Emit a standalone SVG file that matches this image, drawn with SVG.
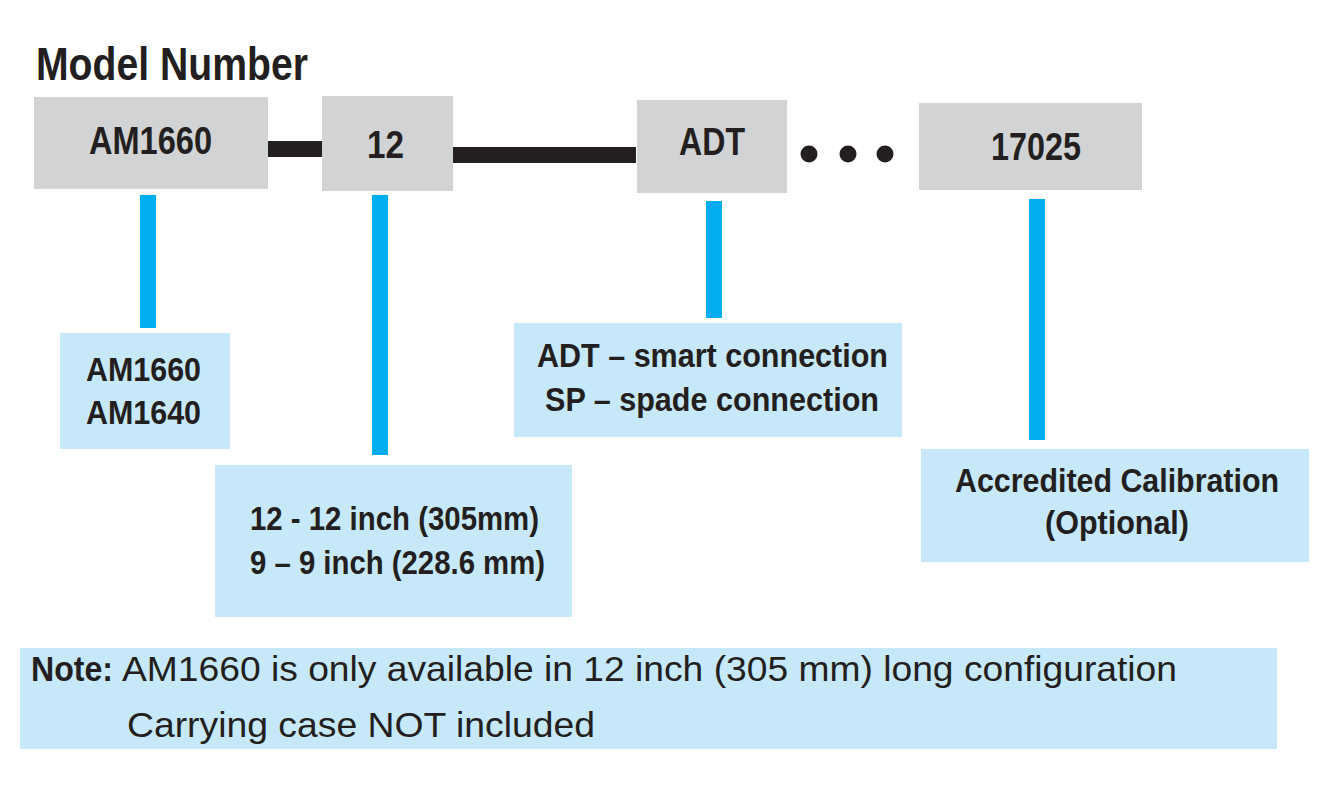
<svg xmlns="http://www.w3.org/2000/svg" width="1330" height="792" viewBox="0 0 1330 792">
<style>
.gray{fill:#d1d3d4}
.lb{fill:#c7e8f8}
.bar{fill:#231f20}
.bl{fill:#00aeef}
text{font-family:"Liberation Sans",Arial,sans-serif;fill:#231f20}
.b{font-weight:bold}
</style>
<rect width="1330" height="792" fill="#ffffff"/>
<text id="title" class="b" x="36" y="80" font-size="47" textLength="272" lengthAdjust="spacingAndGlyphs">Model Number</text>
<g id="connectors">
<rect class="bar" x="268" y="141" width="54" height="16"/>
<rect class="bar" x="453" y="147" width="183" height="16"/>
<circle class="bar" cx="809" cy="154" r="8.5"/>
<circle class="bar" cx="848" cy="154" r="8.5"/>
<circle class="bar" cx="885" cy="154" r="8.5"/>
<rect class="bl" x="140" y="195" width="16" height="133"/>
<rect class="bl" x="372" y="195" width="16" height="260"/>
<rect class="bl" x="706" y="201" width="16" height="117"/>
<rect class="bl" x="1029" y="199" width="16" height="241"/>
</g>
<g id="node-am1660">
<rect class="gray" x="34" y="97" width="234" height="92"/>
<text class="b" x="89" y="154" font-size="38" textLength="123" lengthAdjust="spacingAndGlyphs">AM1660</text>
</g>
<g id="node-12">
<rect class="gray" x="322" y="96" width="131" height="95"/>
<text class="b" x="367" y="158" font-size="38" textLength="37" lengthAdjust="spacingAndGlyphs">12</text>
</g>
<g id="node-adt">
<rect class="gray" x="637" y="100" width="150" height="93"/>
<text class="b" x="679" y="155" font-size="38" textLength="66" lengthAdjust="spacingAndGlyphs">ADT</text>
</g>
<g id="node-17025">
<rect class="gray" x="919" y="103" width="223" height="87"/>
<text class="b" x="991" y="160" font-size="38" textLength="90" lengthAdjust="spacingAndGlyphs">17025</text>
</g>
<g id="opt-model">
<rect class="lb" x="60" y="333" width="170" height="116"/>
<text class="b" x="86" y="381" font-size="34" textLength="115" lengthAdjust="spacingAndGlyphs">AM1660</text>
<text class="b" x="86" y="424" font-size="34" textLength="115" lengthAdjust="spacingAndGlyphs">AM1640</text>
</g>
<g id="opt-length">
<rect class="lb" x="215" y="465" width="357" height="152"/>
<text class="b" x="250" y="530" font-size="34" textLength="289" lengthAdjust="spacingAndGlyphs">12 - 12 inch (305mm)</text>
<text class="b" x="250" y="574" font-size="34" textLength="295" lengthAdjust="spacingAndGlyphs">9 – 9 inch (228.6 mm)</text>
</g>
<g id="opt-connection">
<rect class="lb" x="514" y="323" width="388" height="114"/>
<text class="b" x="537" y="367" font-size="34" textLength="351" lengthAdjust="spacingAndGlyphs">ADT – smart connection</text>
<text class="b" x="545" y="411" font-size="34" textLength="334" lengthAdjust="spacingAndGlyphs">SP – spade connection</text>
</g>
<g id="opt-calibration">
<rect class="lb" x="921" y="449" width="388" height="113"/>
<text class="b" x="955" y="492" font-size="34" textLength="324" lengthAdjust="spacingAndGlyphs">Accredited Calibration</text>
<text class="b" x="1045" y="534" font-size="34" textLength="144" lengthAdjust="spacingAndGlyphs">(Optional)</text>
</g>
<g id="note">
<rect class="lb" x="20" y="648" width="1257" height="101"/>
<text class="b" x="31" y="681" font-size="35" textLength="82" lengthAdjust="spacingAndGlyphs">Note:</text>
<text x="122" y="681" font-size="35" textLength="1055" lengthAdjust="spacingAndGlyphs">AM1660 is only available in 12 inch (305 mm) long configuration</text>
<text x="127" y="737" font-size="35" textLength="468" lengthAdjust="spacingAndGlyphs">Carrying case NOT included</text>
</g>
</svg>
